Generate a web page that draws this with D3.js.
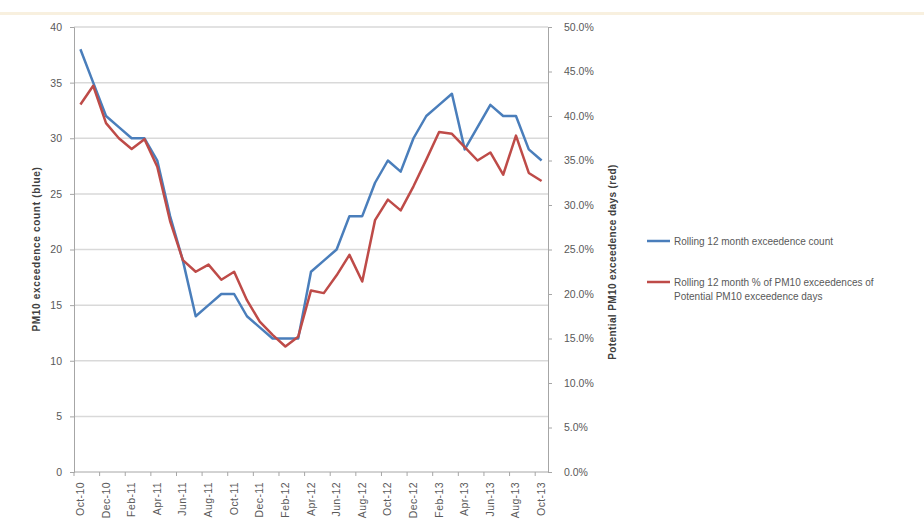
<!DOCTYPE html>
<html><head><meta charset="utf-8">
<script src="https://cdn.jsdelivr.net/npm/d3@7"></script>
<style>body{margin:0;background:#fff;} text{font-family:"Liberation Sans",Arial,sans-serif;}</style>
</head><body><svg id="c" width="924" height="529"></svg>
<script>
const months = ["Oct-10","Nov-10","Dec-10","Jan-11","Feb-11","Mar-11","Apr-11","May-11","Jun-11","Jul-11","Aug-11","Sep-11","Oct-11","Nov-11","Dec-11","Jan-12","Feb-12","Mar-12","Apr-12","May-12","Jun-12","Jul-12","Aug-12","Sep-12","Oct-12","Nov-12","Dec-12","Jan-13","Feb-13","Mar-13","Apr-13","May-13","Jun-13","Jul-13","Aug-13","Sep-13","Oct-13"];
const countSeries = [38,35,32,31,30,30,28,23,19,14,15,16,16,14,13,12,12,12,18,19,20,23,23,26,28,27,30,32,33,34,29,31,33,32,32,29,28];
const pctSeries = [41.3,43.4,39.2,37.5,36.3,37.4,34.3,28.2,23.8,22.5,23.3,21.6,22.5,19.3,16.9,15.4,14.1,15.2,20.4,20.1,22.1,24.4,21.4,28.3,30.6,29.4,32.1,35.1,38.2,38.0,36.5,35.0,35.9,33.4,37.8,33.6,32.7];
const leftTicks = [0,5,10,15,20,25,30,35,40];
const rightTicks = [0,5,10,15,20,25,30,35,40,45,50];
const legendLabels = ["Rolling 12 month exceedence count","Rolling 12 month % of PM10 exceedences of","Potential PM10 exceedence days"];
const leftTitle = "PM10 exceedence count (blue)";
const rightTitle = "Potential PM10 exceedence days (red)";

const svg = d3.select("#c");
const L=74, R=548, T=27, B=472;
const blue="#4a7ebb", red="#be4b48", txt="#595959", grid="#d9d9d9";

svg.append("rect").attr("x",0).attr("y",12).attr("width",924).attr("height",3).attr("fill","#f8f0df");

const x = d3.scaleBand().domain(months).range([L,R]).padding(0);
const xc = d => x(d)+x.bandwidth()/2;
const yL = d3.scaleLinear().domain([0,40]).range([B,T]);
const yR = d3.scaleLinear().domain([0,50]).range([B,T]);

// gridlines
svg.append("g").selectAll("line").data(leftTicks.filter(d=>d>0)).join("line")
  .attr("x1",L).attr("x2",R).attr("y1",d=>yL(d)).attr("y2",d=>yL(d))
  .attr("stroke",grid).attr("stroke-width",1.5);

// left axis
const gl = svg.append("g").attr("transform",`translate(${L},0)`)
  .call(d3.axisLeft(yL).tickValues(leftTicks).tickSize(4).tickPadding(8));
gl.select(".domain").attr("stroke","#a6a6a6");
gl.selectAll(".tick line").attr("stroke","#a6a6a6");
gl.selectAll("text").attr("fill",txt).style("font-size","10.5px");

// right axis
const gr = svg.append("g").attr("transform",`translate(${R},0)`)
  .call(d3.axisRight(yR).tickValues(rightTicks).tickSize(4).tickPadding(12).tickFormat(d=>d.toFixed(1)+"%"));
gr.select(".domain").attr("stroke","#a6a6a6");
gr.selectAll(".tick line").attr("stroke","#a6a6a6");
gr.selectAll("text").attr("fill",txt).style("font-size","10.5px");

// x axis
svg.append("line").attr("x1",L).attr("x2",R).attr("y1",B).attr("y2",B).attr("stroke","#a6a6a6");
const bounds = d3.range(0, months.length+1, 2).map(i => L + i*x.bandwidth());
svg.append("g").selectAll("line").data(bounds).join("line")
  .attr("x1",d=>d).attr("x2",d=>d).attr("y1",B).attr("y2",B+4).attr("stroke","#a6a6a6");
svg.append("g").selectAll("text").data(months.filter((d,i)=>i%2===0)).join("text")
  .attr("transform",d=>`translate(${xc(d)+3.5},${B+10}) rotate(-90)`)
  .attr("text-anchor","end").attr("fill",txt).style("font-size","10.5px").style("letter-spacing","0.4px").text(d=>d);

// lines
const lineL = d3.line().x((d,i)=>xc(months[i])).y(d=>yL(d));
const lineR = d3.line().x((d,i)=>xc(months[i])).y(d=>yR(d));
svg.append("path").datum(countSeries).attr("d",lineL).attr("fill","none").attr("stroke",blue).attr("stroke-width",2.5).attr("stroke-linejoin","round");
svg.append("path").datum(pctSeries).attr("d",lineR).attr("fill","none").attr("stroke",red).attr("stroke-width",2.5).attr("stroke-linejoin","round");

// axis titles
svg.append("text").attr("transform",`translate(40,249) rotate(-90)`).attr("text-anchor","middle")
  .attr("fill","#404040").style("font-size","10px").style("font-weight","bold").style("letter-spacing","0.7px").text(leftTitle);
svg.append("text").attr("transform",`translate(616,262) rotate(-90)`).attr("text-anchor","middle")
  .attr("fill","#404040").style("font-size","10px").style("font-weight","bold").style("letter-spacing","0.4px").text(rightTitle);

// legend
const lg = svg.append("g");
lg.append("line").attr("x1",647).attr("x2",670).attr("y1",241).attr("y2",241).attr("stroke",blue).attr("stroke-width",2.5);
lg.append("text").attr("x",674).attr("y",244.5).attr("fill",txt).style("font-size","10px").text(legendLabels[0]);
lg.append("line").attr("x1",647).attr("x2",670).attr("y1",282).attr("y2",282).attr("stroke",red).attr("stroke-width",2.5);
lg.append("text").attr("x",674).attr("y",285.5).attr("fill",txt).style("font-size","10px").text(legendLabels[1]);
lg.append("text").attr("x",674).attr("y",300).attr("fill",txt).style("font-size","10px").text(legendLabels[2]);
</script></body></html>
